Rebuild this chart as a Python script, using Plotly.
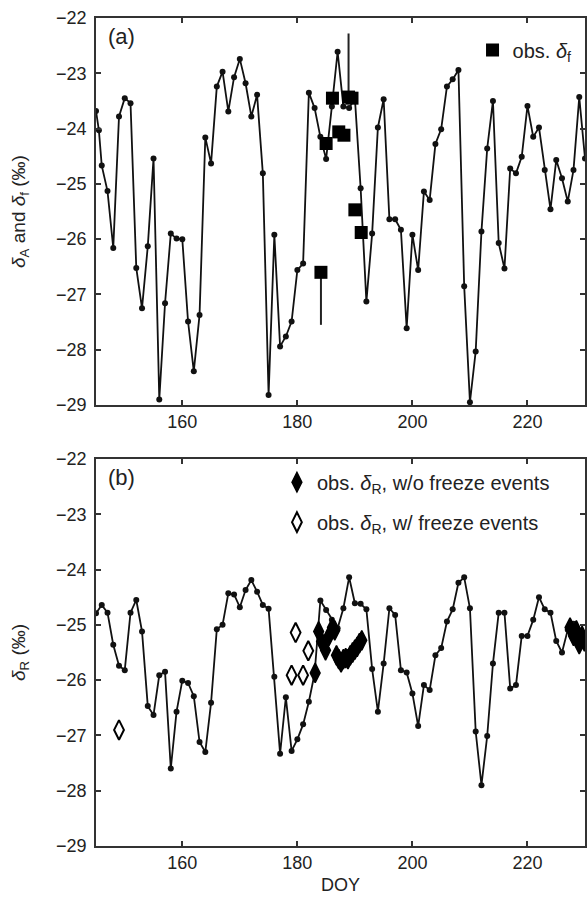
import plotly.graph_objects as go

# ---------------- data ----------------
doy_a = [145, 145.5, 146, 147, 148, 149, 150, 151, 152, 153, 154, 155, 156, 157, 158, 159,
         160, 161, 162, 163, 164, 165, 166, 167, 168, 169, 170, 171, 172, 173, 174, 175,
         176, 177, 178, 179, 180, 181, 182, 183, 184, 185, 186, 187, 188, 189, 190, 191,
         192, 193, 194, 195, 196, 197, 198, 199, 200, 201, 202, 203, 204, 205, 206, 207,
         208, 209, 210, 211, 212, 213, 214, 215, 216, 217, 218, 219, 220, 221, 222, 223,
         224, 225, 226, 227, 228, 229, 230]
delta_A = [-23.68, -24.03, -24.67, -25.13, -26.16, -23.78, -23.45, -23.54, -26.52, -27.25,
           -26.13, -24.54, -28.90, -27.16, -25.90, -25.99, -26.00, -27.49, -28.39, -27.37,
           -24.16, -24.63, -23.24, -22.97, -23.69, -23.07, -22.74, -23.18, -23.78, -23.39,
           -24.81, -28.82, -25.92, -27.94, -27.76, -27.49, -26.56, -26.44, -23.35, -23.63,
           -24.15, -24.55, -23.60, -22.61, -23.60, -23.63, -23.45, -25.08, -27.13, -25.90,
           -23.98, -23.47, -25.64, -25.64, -25.83, -27.61, -25.92, -26.56, -25.14, -25.29,
           -24.28, -24.01, -23.24, -23.11, -22.94, -26.85, -28.95, -28.03, -25.86, -24.36,
           -23.50, -26.07, -26.53, -24.72, -24.81, -24.51, -23.59, -24.15, -23.98, -24.75,
           -25.46, -24.57, -24.90, -25.32, -24.75, -23.43, -24.54]

obs_f_doy = [184.1, 185.0, 186.1, 187.2, 188.1, 188.9, 189.5, 190.0, 191.1]
obs_f_val = [-26.60, -24.27, -23.45, -24.06, -24.12, -23.43, -23.45, -25.47, -25.88]
obs_f_err_plus = [0, 0, 0, 0, 0, 1.15, 0, 0, 0]
obs_f_err_minus = [0.95, 0, 0, 0, 0, 0, 0, 0, 0]

doy_b = list(range(145, 231))
delta_R = [-24.79, -24.64, -24.78, -25.36, -25.74, -25.82, -24.78, -24.55, -25.12, -26.47,
           -26.63, -25.91, -25.85, -27.60, -26.57, -26.01, -26.05, -26.29, -27.12, -27.30,
           -26.41, -25.08, -25.00, -24.43, -24.45, -24.68, -24.37, -24.19, -24.40, -24.64,
           -24.71, -25.94, -27.33, -26.31, -27.28, -27.07, -26.80, -26.39, -25.88, -24.56,
           -24.73, -24.91, -25.06, -24.70, -24.14, -24.61, -24.62, -24.72, -25.80, -26.57,
           -25.70, -24.70, -24.82, -25.82, -25.86, -26.24, -26.83, -26.09, -26.18, -25.55,
           -25.42, -24.94, -24.72, -24.24, -24.14, -24.70, -26.93, -27.90, -27.01, -25.70,
           -24.78, -24.78, -26.15, -26.09, -25.20, -25.20, -24.91, -24.50, -24.72, -24.78,
           -25.29, -25.50, -25.09, -24.98, -25.27, -25.39]

obs_R_nofreeze_doy = [183.1, 183.7, 184.2, 184.9, 185.5, 186.1, 186.5, 186.8, 187.2, 187.6,
                      188.0, 188.4, 188.8, 189.2, 189.6, 190.0, 190.4, 190.8, 191.2,
                      227.4, 228.0, 228.5, 229.0, 229.5, 229.9]
obs_R_nofreeze_val = [-25.87, -25.12, -25.30, -25.46, -25.20, -25.05, -25.10, -25.55, -25.62,
                      -25.68, -25.62, -25.60, -25.62, -25.55, -25.50, -25.45, -25.40, -25.33,
                      -25.28, -25.05, -25.20, -25.10, -25.35, -25.20, -25.30]

obs_R_freeze_doy = [149.0, 179.0, 179.7, 181.0, 181.9]
obs_R_freeze_val = [-26.90, -25.91, -25.14, -25.91, -25.47]

x_ticks = [160, 180, 200, 220]
y_ticks = [-22, -23, -24, -25, -26, -27, -28, -29]

# ---------------- figure ----------------
FONT = "Liberation Sans, Arial, Helvetica, sans-serif"
INK = "#111111"
TXT = "#222222"

fig = go.Figure()

fig.add_trace(go.Scatter(
    x=doy_a, y=delta_A, mode="lines+markers", xaxis="x", yaxis="y",
    line=dict(color=INK, width=1.8), marker=dict(size=6, color=INK),
    showlegend=False))

fig.add_trace(go.Scatter(
    x=obs_f_doy, y=obs_f_val, mode="markers", xaxis="x", yaxis="y",
    marker=dict(symbol="square", size=13, color="black"),
    error_y=dict(type="data", symmetric=False, array=obs_f_err_plus,
                 arrayminus=obs_f_err_minus, width=0, thickness=2, color="#222"),
    name="obs. <i>δ</i><sub>f</sub>", legend="legend"))

fig.add_trace(go.Scatter(
    x=doy_b, y=delta_R, mode="lines+markers", xaxis="x2", yaxis="y2",
    line=dict(color=INK, width=1.8), marker=dict(size=6, color=INK),
    showlegend=False))

fig.add_trace(go.Scatter(
    x=obs_R_nofreeze_doy, y=obs_R_nofreeze_val, mode="markers", xaxis="x2", yaxis="y2",
    marker=dict(symbol="diamond-tall", size=14, color="black",
                line=dict(width=1.5, color="black")),
    name="obs. <i>δ</i><sub>R</sub>, w/o freeze events",
    legend="legend2", legendgroup="g1"))

fig.add_trace(go.Scatter(
    x=obs_R_freeze_doy, y=obs_R_freeze_val, mode="markers", xaxis="x2", yaxis="y2",
    marker=dict(symbol="diamond-tall-open", size=14, color="black",
                line=dict(width=2, color="black")),
    name="obs. <i>δ</i><sub>R</sub>, w/ freeze events",
    legend="legend2", legendgroup="g2"))

axis_common = dict(
    range=[145, 230], showline=True, linecolor="#333", linewidth=1.5, mirror="ticks",
    ticks="inside", ticklen=5, tickcolor="#333", tickwidth=1.5,
    tickvals=x_ticks, showgrid=False, zeroline=False,
    tickfont=dict(family=FONT, size=18, color=TXT))
yaxis_common = dict(
    range=[-29, -22], showline=True, linecolor="#333", linewidth=1.5, mirror="ticks",
    ticks="inside", ticklen=5, tickcolor="#333", tickwidth=1.5,
    tickvals=y_ticks, showgrid=False, zeroline=False,
    tickfont=dict(family=FONT, size=18, color=TXT), ticklabelstandoff=4)

fig.update_layout(
    width=588, height=900,
    margin=dict(l=96, r=1, t=18, b=54),
    paper_bgcolor="white", plot_bgcolor="white",
    font=dict(family=FONT, size=18, color=TXT),
    xaxis=dict(axis_common, domain=[0, 1], anchor="y"),
    yaxis=dict(yaxis_common, domain=[0.5326, 1], anchor="x",
               title=dict(text="<i>δ</i><sub>A</sub> and <i>δ</i><sub>f</sub> (‰)",
                          font=dict(size=19), standoff=25)),
    xaxis2=dict(axis_common, domain=[0, 1], anchor="y2",
                title=dict(text="DOY", font=dict(size=18), standoff=6)),
    yaxis2=dict(yaxis_common, domain=[0, 0.4674], anchor="x2",
                title=dict(text="<i>δ</i><sub>R</sub> (‰)", font=dict(size=19), standoff=25)),
    legend=dict(x=0.77, y=0.985, xanchor="left", yanchor="top",
                bgcolor="rgba(0,0,0,0)", font=dict(family=FONT, size=20, color=TXT)),
    legend2=dict(x=0.37, y=0.463, xanchor="left", yanchor="top",
                 traceorder="grouped", tracegroupgap=11,
                 bgcolor="rgba(0,0,0,0)", font=dict(family=FONT, size=20, color=TXT)),
    annotations=[
        dict(text="(a)", xref="paper", yref="paper", x=0.02, y=0.995,
             xanchor="left", yanchor="top", showarrow=False,
             font=dict(family=FONT, size=22, color=TXT)),
        dict(text="(b)", xref="paper", yref="paper", x=0.02, y=0.462,
             xanchor="left", yanchor="top", showarrow=False,
             font=dict(family=FONT, size=22, color=TXT)),
    ],
)

fig.write_html("out.html", config={"displayModeBar": False},
               post_script="document.body.style.margin='0';")
